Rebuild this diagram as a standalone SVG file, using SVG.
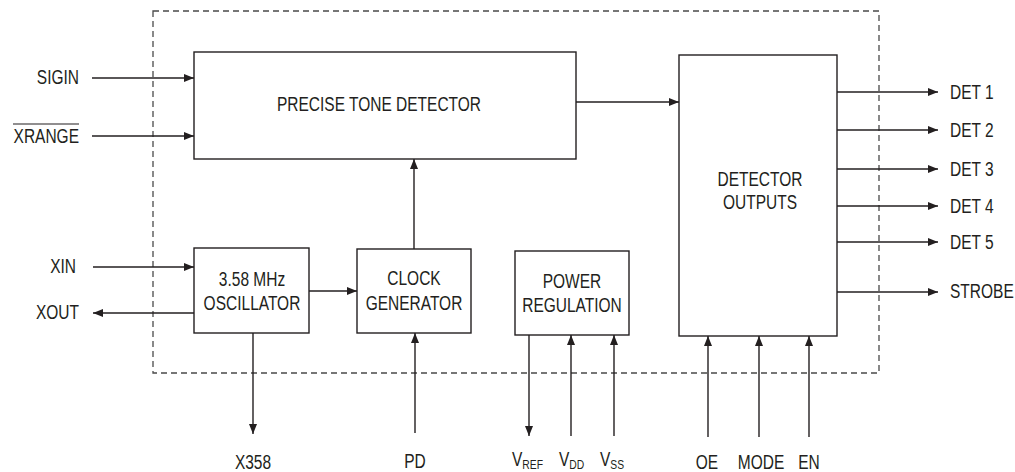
<svg xmlns="http://www.w3.org/2000/svg" width="1015" height="472" viewBox="0 0 1015 472">
<style>
.box{fill:#fff;stroke:#231f20;stroke-width:1.4}
.ln{fill:none;stroke:#231f20;stroke-width:1.4;marker-end:url(#ah)}
.t{font-family:"Liberation Sans",Arial,sans-serif;font-size:19.5px;fill:#231f20}
.m{text-anchor:middle}
.e{text-anchor:end}
.sub{font-size:13px}
</style>
<defs>
<marker id="ah" markerUnits="userSpaceOnUse" markerWidth="10" markerHeight="8" refX="10" refY="4" orient="auto">
<path d="M0,0 L10,4 L0,8 z" fill="#231f20"/>
</marker>
</defs>
<rect x="0" y="0" width="1015" height="472" fill="#fff"/>
<rect x="153" y="11" width="726" height="362" fill="none" stroke="#4a4a4a" stroke-width="1.3" stroke-dasharray="6,4"/>

<g id="connectors">
<path class="ln" d="M92,78 H194"/>
<path class="ln" d="M92,136 H194"/>
<path class="ln" d="M576,102 H679"/>
<path class="ln" d="M93,267 H194"/>
<path class="ln" d="M194,313 H93"/>
<path class="ln" d="M309,291 H357"/>
<path class="ln" d="M414,249 V159"/>
<path class="ln" d="M253,333 V434"/>
<path class="ln" d="M415,433 V333"/>
<path class="ln" d="M529,335 V436"/>
<path class="ln" d="M571,436 V335"/>
<path class="ln" d="M614,436 V335"/>
<path class="ln" d="M837,92 H938"/>
<path class="ln" d="M837,130 H938"/>
<path class="ln" d="M837,169 H938"/>
<path class="ln" d="M837,206 H938"/>
<path class="ln" d="M837,242 H938"/>
<path class="ln" d="M837,292 H938"/>
<path class="ln" d="M708,437 V336"/>
<path class="ln" d="M759,437 V336"/>
<path class="ln" d="M809,437 V336"/>
</g>

<g id="tone-detector">
<rect class="box" x="194" y="52" width="382" height="107"/>
<text class="t m" transform="translate(379,111) scale(0.795,1)">PRECISE TONE DETECTOR</text>
</g>
<g id="detector-outputs">
<rect class="box" x="679" y="55" width="158" height="281"/>
<text class="t m" transform="translate(760,186) scale(0.795,1)">DETECTOR</text>
<text class="t m" transform="translate(760,209) scale(0.795,1)">OUTPUTS</text>
</g>
<g id="oscillator">
<rect class="box" x="194" y="248" width="115" height="85"/>
<text class="t m" transform="translate(252,286) scale(0.795,1)">3.58 MHz</text>
<text class="t m" transform="translate(252,310) scale(0.795,1)">OSCILLATOR</text>
</g>
<g id="clock-generator">
<rect class="box" x="357" y="249" width="114" height="84"/>
<text class="t m" transform="translate(414,285) scale(0.795,1)">CLOCK</text>
<text class="t m" transform="translate(414,310) scale(0.795,1)">GENERATOR</text>
</g>
<g id="power-regulation">
<rect class="box" x="515" y="251" width="114" height="84"/>
<text class="t m" transform="translate(572,288) scale(0.795,1)">POWER</text>
<text class="t m" transform="translate(572,312) scale(0.795,1)">REGULATION</text>
</g>

<g id="labels">
<text class="t e" transform="translate(79,84) scale(0.795,1)">SIGIN</text>
<text class="t e" transform="translate(79,143) scale(0.795,1)">XRANGE</text>
<line x1="13" y1="124" x2="79" y2="124" stroke="#231f20" stroke-width="1.2"/>
<text class="t e" transform="translate(76,273) scale(0.795,1)">XIN</text>
<text class="t e" transform="translate(79,319) scale(0.795,1)">XOUT</text>
<text class="t m" transform="translate(253,469) scale(0.795,1)">X358</text>
<text class="t m" transform="translate(415,468) scale(0.795,1)">PD</text>
<text class="t" transform="translate(512,466) scale(0.795,1)">V<tspan class="sub" dy="3">REF</tspan></text>
<text class="t" transform="translate(559,466) scale(0.795,1)">V<tspan class="sub" dy="3">DD</tspan></text>
<text class="t" transform="translate(600,466) scale(0.795,1)">V<tspan class="sub" dy="3">SS</tspan></text>
<text class="t m" transform="translate(707,469) scale(0.795,1)">OE</text>
<text class="t m" transform="translate(761,469) scale(0.795,1)">MODE</text>
<text class="t m" transform="translate(809,469) scale(0.795,1)">EN</text>
<text class="t" transform="translate(950,99) scale(0.795,1)">DET 1</text>
<text class="t" transform="translate(950,137) scale(0.795,1)">DET 2</text>
<text class="t" transform="translate(950,176) scale(0.795,1)">DET 3</text>
<text class="t" transform="translate(950,213) scale(0.795,1)">DET 4</text>
<text class="t" transform="translate(950,249) scale(0.795,1)">DET 5</text>
<text class="t" transform="translate(950,298) scale(0.795,1)">STROBE</text>
</g>
</svg>
